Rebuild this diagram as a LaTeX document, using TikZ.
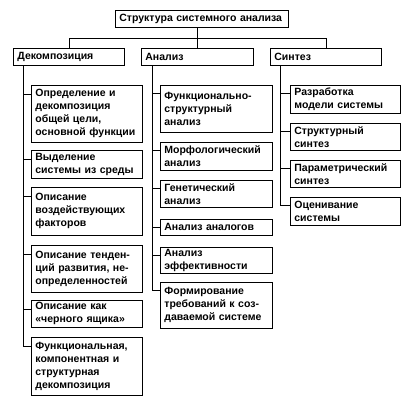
\documentclass[tikz,border=0pt]{standalone}
\usepackage{fontspec}
\setmainfont{Liberation Sans}
\usetikzlibrary{calc}
\begin{document}
\begin{tikzpicture}[x=1pt,y=-1pt,
  box/.style={draw, line width=0.8pt, anchor=north west, inner xsep=4pt, inner ysep=0pt,
    align=left, font=\bfseries\fontsize{10.5}{13}\selectfont},
  dbox/.style={box, text width=103pt},
  abox/.style={box, text width=104pt},
  sbox/.style={box, text width=102pt},
  con/.style={line width=0.8pt}]
\useasboundingbox (0,0) rectangle (414,406);
\node[box, text width=165pt, minimum height=17pt] (top) at (115,10) {Структура системного анализа};
\node[dbox, minimum height=17pt] (dec) at (13,48) {Декомпозиция};
\node[abox, minimum height=17pt] (an) at (141,48) {Анализ};
\node[box, text width=103pt, minimum height=17pt] (syn) at (270,48) {Синтез};

\node[dbox, minimum height=57pt] (d1) at (31,85) {Определение и\\декомпозиция\\общей цели,\\основной функции};
\node[dbox, minimum height=28pt] (d2) at (31,150) {Выделение\\системы из среды};
\node[dbox, minimum height=48pt] (d3) at (31,187) {Описание\\воздействующих\\факторов};
\node[dbox, minimum height=47pt] (d4) at (31,245) {Описание тенден-\\ций развития, не-\\определенностей};
\node[dbox, minimum height=27pt] (d5) at (31,300) {Описание как\\«черного ящика»};
\node[dbox, minimum height=58pt] (d6) at (31,337) {Функциональная,\\компонентная и\\структурная\\декомпозиция};

\node[abox, minimum height=47pt] (a1) at (160,85) {Функционально-\\структурный\\анализ};
\node[abox, minimum height=28pt] (a2) at (160,142) {Морфологический\\анализ};
\node[abox, minimum height=27pt] (a3) at (160,180) {Генетический\\анализ};
\node[abox, minimum height=16pt] (a4) at (160,219) {Анализ аналогов};
\node[abox, minimum height=26pt] (a5) at (160,247) {Анализ\\эффективности};
\node[abox, minimum height=46pt] (a6) at (160,282) {Формирование\\требований к соз-\\даваемой системе};

\node[sbox, minimum height=28pt] (s1) at (290,85) {Разработка\\модели системы};
\node[sbox, minimum height=27pt] (s2) at (290,123) {Структурный\\синтез};
\node[sbox, minimum height=27pt] (s3) at (290,160) {Параметрический\\синтез};
\node[sbox, minimum height=28pt] (s4) at (290,197) {Оценивание\\системы};

% top level connectors
\coordinate (hbar) at (197,38);
\draw[con] (top.south -| an.north) -- (an.north);
\draw[con] (dec.north) -- (dec.north |- hbar) -- (syn.north |- hbar) -- (syn.north);

% spines
\coordinate (ds) at ($(dec.south west)+(10,0)$);
\coordinate (as) at ($(an.south west)+(11,0)$);
\coordinate (ss) at ($(syn.south west)+(10,0)$);
\foreach \c in {d1,d2,d3,d4,d5,d6}{
  \coordinate (\c-t) at ($(\c.north west)+(0,9)$);
  \draw[con] (\c-t) -- (\c-t -| ds);
}
\foreach \c in {a1,a2,a3,a4,a5,a6}{
  \coordinate (\c-t) at ($(\c.north west)+(0,8)$);
  \draw[con] (\c-t) -- (\c-t -| as);
}
\foreach \c in {s1,s2,s3,s4}{
  \coordinate (\c-t) at ($(\c.north west)+(0,8)$);
  \draw[con] (\c-t) -- (\c-t -| ss);
}
\draw[con] (ds) -- (d6-t -| ds);
\draw[con] (as) -- (a6-t -| as);
\draw[con] (ss) -- (s4-t -| ss);
\end{tikzpicture}
\end{document}
